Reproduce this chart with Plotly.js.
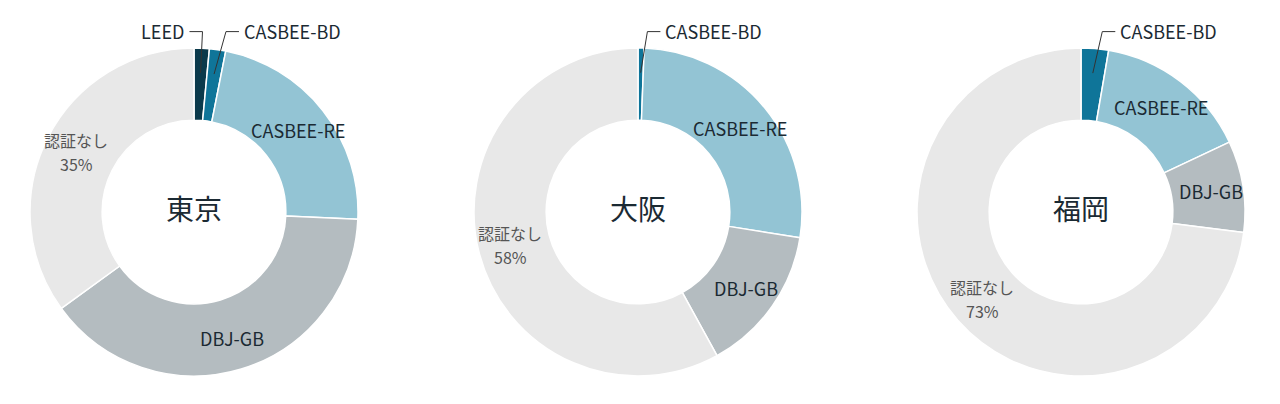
<!DOCTYPE html>
<html>
<head>
<meta charset="utf-8">
<script src="https://cdn.plot.ly/plotly-3.0.1.min.js"></script>
<style>
  html, body { margin:0; padding:0; background:#fff; }
  #chart { width:1280px; height:404px; }
</style>
</head>
<body>
<div id="chart"></div>
<script>
// data (share of buildings, %)
const cities = ['東京', '大阪', '福岡'];
const certLabels = ['LEED', 'CASBEE-BD', 'CASBEE-RE', 'DBJ-GB', '認証なし'];
const tokyoVals = [1.5, 1.6, 22.6, 39.3, 35];
const osakaVals = [0, 0.6, 26.9, 14.5, 58];
const fukuokaVals = [0, 2.7, 15.3, 9, 73];
const sliceColors = ['#0b3a4b', '#0f7599', '#93c4d4', '#b4bcc0', '#e8e8e8'];

const W = 1280, H = 404;
const R = 164;                 // outer radius px
const HOLE = 0.56;
const centers = [[194, 212], [638, 212], [1081, 212]];
const allVals = [tokyoVals, osakaVals, fukuokaVals];
const calloutSide = { 'LEED': 'left', 'CASBEE-BD': 'right' };
const labelFont = { size: 18, color: '#1b2a33', family: 'Noto Sans CJK JP' };
const noneFont = { size: 16, color: '#555555', family: 'Noto Sans CJK JP' };

const px = x => x / W;
const py = y => 1 - y / H;

const traces = [], shapes = [], annotations = [];

function addText(x, y, text, font, xanchor) {
  annotations.push({
    xref: 'paper', yref: 'paper', x: px(x), y: py(y),
    xanchor: xanchor || 'center', yanchor: 'middle',
    text: text, showarrow: false, font: font, borderpad: 0
  });
}

allVals.forEach((vals, k) => {
  const [cx, cy] = centers[k];
  const total = vals.reduce((a, b) => a + b, 0);
  let cum = 0;
  vals.forEach((v, i) => {
    const lab = certLabels[i];
    const mid = (cum + v / 2) / total * 2 * Math.PI;
    cum += v;
    if (v <= 0) return;
    if (calloutSide[lab]) {
      // leader line: point in slice -> elbow above ring -> short horizontal
      const p0 = [cx + 0.85 * R * Math.sin(mid), cy - 0.85 * R * Math.cos(mid)];
      const ey = cy - 1.1 * R;
      const ex = cx + 1.1 * R * Math.sin(mid) + (calloutSide[lab] === 'right' ? 6 : 0);
      const dir = calloutSide[lab] === 'right' ? 1 : -1;
      const hx = ex + dir * 13;
      shapes.push({
        type: 'path', xref: 'paper', yref: 'paper',
        path: `M ${px(p0[0])} ${py(p0[1])} L ${px(ex)} ${py(ey)} L ${px(hx)} ${py(ey)}`,
        line: { color: '#333', width: 1 }
      });
      addText(hx + dir * 4, ey - 1, lab, labelFont, dir > 0 ? 'left' : 'right');
    } else {
      // label centred in the ring at the slice's mid angle
      const r = R * (1 + HOLE) / 2 + 4;
      const lx = cx + r * Math.sin(mid), ly = cy - r * Math.cos(mid);
      if (lab === '認証なし') {
        addText(lx, ly - 12, lab, noneFont);
        addText(lx, ly + 12, `${Math.round(v)}%`, noneFont);
      } else {
        addText(lx, ly, lab, labelFont);
      }
    }
  });

  traces.push({
    type: 'pie',
    labels: certLabels,
    values: vals,
    textinfo: 'none',
    sort: false,
    direction: 'clockwise',
    rotation: 0,
    hole: HOLE,
    marker: { colors: sliceColors, line: { color: '#ffffff', width: 1.5 } },
    domain: {
      x: [px(cx - R), px(cx + R)],
      y: [1 - (cy + R) / H, 1 - (cy - R) / H]
    },
    title: {
      text: cities[k], position: 'middle center',
      font: { size: 28, color: '#1b2a33', family: 'Noto Sans CJK JP' }
    },
    showlegend: false,
    hoverinfo: 'label+percent'
  });
});

Plotly.newPlot('chart', traces, {
  width: W, height: H,
  margin: { l: 0, r: 0, t: 0, b: 0 },
  paper_bgcolor: '#fff',
  font: { family: 'Noto Sans CJK JP' },
  shapes: shapes,
  annotations: annotations
}, { displayModeBar: false, staticPlot: true });
</script>
</body>
</html>
